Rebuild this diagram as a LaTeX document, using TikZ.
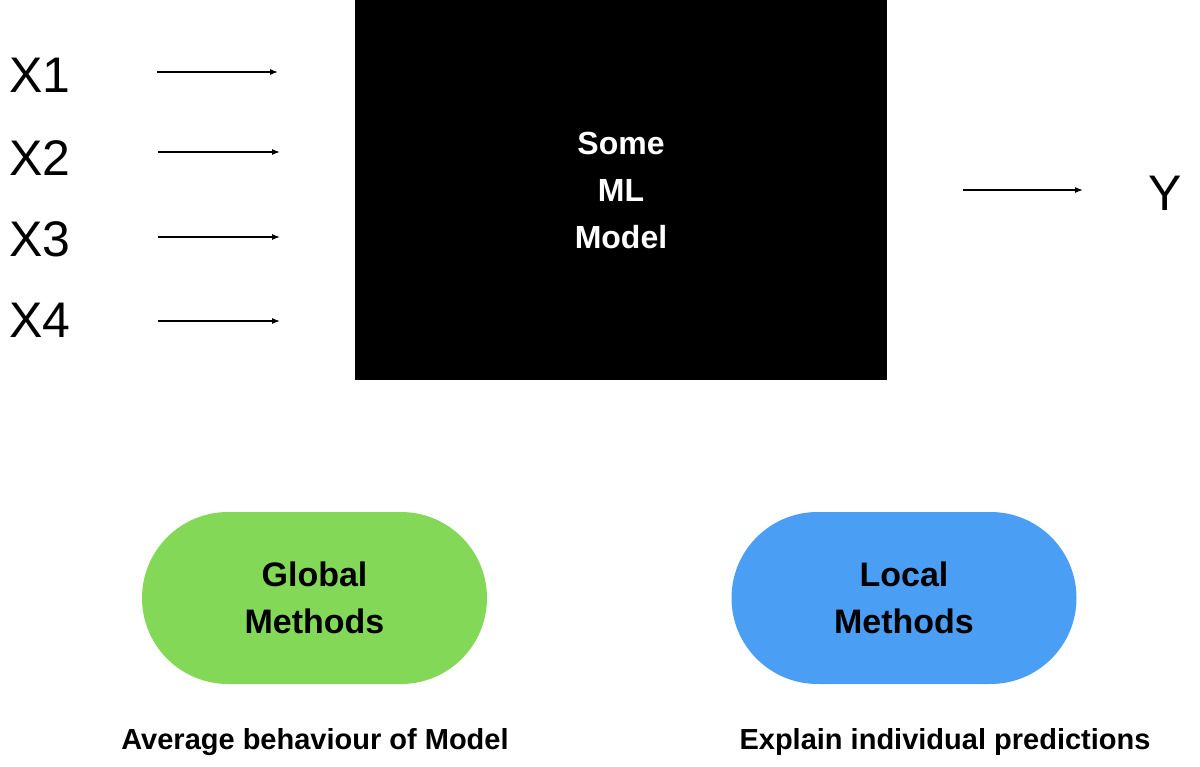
\documentclass[tikz,border=0pt]{standalone}
\usepackage{fontspec}
\setmainfont{Liberation Sans}
\usetikzlibrary{arrows.meta}
\definecolor{gr}{HTML}{84D858}
\definecolor{bl}{HTML}{4A9FF5}
\begin{document}
\begin{tikzpicture}[x=1pt,y=-1pt,
  lbl/.style={font=\fontsize{50}{50}\selectfont,anchor=center},
  arr/.style={-{Latex[length=8pt,width=6pt]},line width=1.2pt},
  pill/.style={rounded corners=86pt,minimum width=345pt,minimum height=172pt,align=center,font=\bfseries\fontsize{34}{47}\selectfont},
  captxt/.style={font=\bfseries\fontsize{29}{29}\selectfont}]
\useasboundingbox (0,0) rectangle (1200,767);
\node[fill=black,minimum width=532pt,minimum height=380pt,inner sep=0pt,align=center,text=white,font=\bfseries\fontsize{32}{47}\selectfont] (m) at (621,190) {Some\\ML\\Model};
\node[lbl] (x1) at (40,75) {X1};
\node[lbl] (x2) at (40,158) {X2};
\node[lbl] (x3) at (40,239) {X3};
\node[lbl] (x4) at (40,320) {X4};
\node[lbl] (y) at (1165,193) {Y};
\coordinate (a1) at (157,72); \coordinate (b1) at (278,72);
\coordinate (a2) at (158,152); \coordinate (b2) at (280,152);
\coordinate (a3) at (158,237); \coordinate (b3) at (280,237);
\coordinate (a4) at (158,321); \coordinate (b4) at (280,321);
\coordinate (a5) at (963,190); \coordinate (b5) at (1083,190);
\foreach \i in {1,...,5} \draw[arr] (a\i) -- (b\i);
\node[pill,fill=gr] (g) at (314.5,598) {Global\\Methods};
\node[pill,fill=bl] (l) at (904,598) {Local\\Methods};
\node[captxt] (gc) at (315,742) {Average behaviour of Model};
\node[captxt] (lc) at (945,742) {Explain individual predictions};
\end{tikzpicture}
\end{document}
